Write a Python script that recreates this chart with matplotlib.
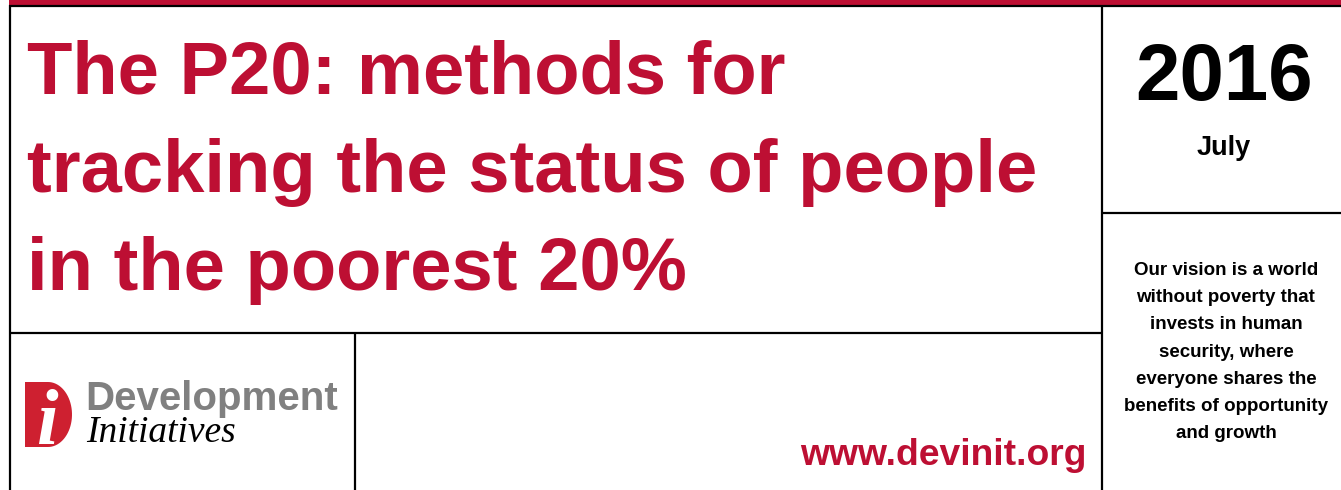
import numpy as np
import matplotlib
matplotlib.use("Agg")
import matplotlib.pyplot as plt
from matplotlib.patches import Rectangle, Polygon

# page texts
title_lines = ["The P20: methods for", "tracking the status of people", "in the poorest 20%"]
year = "2016"
month = "July"
vision_lines = ["Our vision is a world", "without poverty that", "invests in human",
                "security, where", "everyone shares the", "benefits of opportunity", "and growth"]
logo_words = ["Development", "Initiatives"]
url = "www.devinit.org"

RED = "#BD0F33"
W, H = 1341, 490

fig = plt.figure(figsize=(W / 100, H / 100), dpi=100)
ax = fig.add_axes([0, 0, 1, 1])
ax.set_xlim(0, W)
ax.set_ylim(H, 0)
ax.axis("off")

# top red band + frame lines
ax.add_patch(Rectangle((9, 0), W - 9, 5.5, color=RED, lw=0))
lw = 1.6
ax.plot([9, W], [6, 6], color="black", lw=lw, solid_capstyle="butt")
ax.plot([10, 10], [5, H], color="black", lw=lw, solid_capstyle="butt")
ax.plot([1102, 1102], [5, H], color="black", lw=lw, solid_capstyle="butt")
ax.plot([1102, W], [213, 213], color="black", lw=lw, solid_capstyle="butt")
ax.plot([10, 1102], [333, 333], color="black", lw=lw, solid_capstyle="butt")
ax.plot([355, 355], [333, H], color="black", lw=lw, solid_capstyle="butt")

# title
for i, line in enumerate(title_lines):
    ax.text(27, 93 + i * 98.5, line, fontsize=53.5, fontweight="bold", color=RED,
            family="Liberation Sans", va="baseline", ha="left")

# year box
ax.text(1224, 100, year, fontsize=57.5, fontweight="bold", color="black",
        family="Liberation Sans", va="baseline", ha="center")
ax.text(1224, 155, month, fontsize=19.5, fontweight="bold", color="black",
        family="Liberation Sans", va="baseline", ha="center")

# vision statement
for i, line in enumerate(vision_lines):
    ax.text(1226, 275 + i * 27.2, line, fontsize=13.5, fontweight="bold", color="black",
            family="Liberation Sans", va="baseline", ha="center")

# url
ax.text(1086, 465, url, fontsize=26.8, fontweight="bold", color=RED,
        family="Liberation Sans", va="baseline", ha="right")

# logo: red D shape with white italic i
t = np.linspace(-np.pi / 2, np.pi / 2, 40)
d_shape = np.vstack([[[25, 382]],
                     np.column_stack([48 + 24 * np.cos(t), 414.5 + 32.5 * np.sin(t)])[::-1][::-1],
                     [[25, 447]]])
ax.add_patch(Polygon(d_shape, closed=True, color="#CE2030", lw=0))
ax.text(47, 443, "i", fontsize=56, fontstyle="italic", fontweight="bold", color="white",
        family="Liberation Serif", va="baseline", ha="center")
ax.text(85, 410, logo_words[0], fontsize=29, fontweight="bold", color="#808080",
        family="Liberation Sans", va="baseline", ha="left")
ax.text(86, 442, logo_words[1], fontsize=27, fontstyle="italic", color="black",
        family="Liberation Serif", va="baseline", ha="left")

fig.savefig("out.png", dpi=100)
